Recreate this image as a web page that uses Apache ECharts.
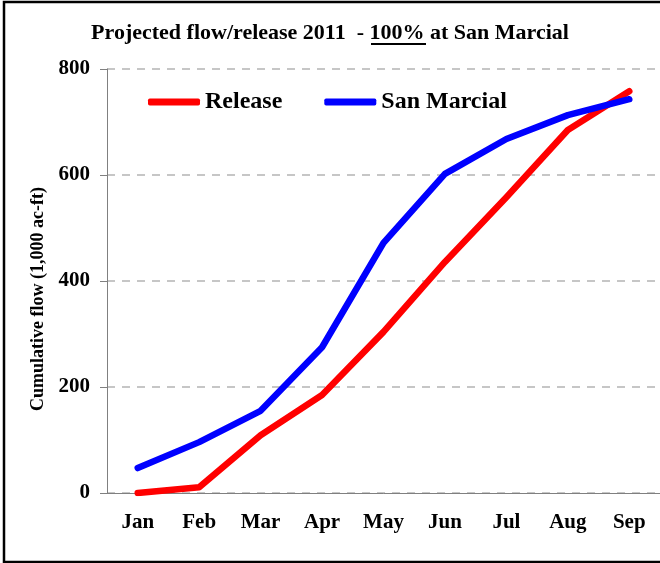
<!DOCTYPE html>
<html>
<head>
<meta charset="utf-8">
<script src="https://cdn.jsdelivr.net/npm/echarts@6/dist/echarts.min.js"></script>
<style>
  html, body { margin: 0; padding: 0; background: #fff; }
  #main { width: 660px; height: 563px; }
</style>
</head>
<body>
<div id="main"></div>
<script>
// months on the x axis
var months = ["Jan", "Feb", "Mar", "Apr", "May", "Jun", "Jul", "Aug", "Sep"];
// cumulative flow, 1,000 ac-ft
var releaseData = [0, 11, 109, 185, 304, 436, 558, 685, 758];
var sanMarcialData = [47, 96, 155, 275, 472, 602, 668, 713, 743];
var yTicks = [0, 200, 400, 600, 800];

var serif = "'Liberation Serif', 'Times New Roman', serif";
var myChart = echarts.init(document.getElementById("main"));

var option = {
  backgroundColor: "#fff",
  animation: false,
  title: {
    text: "Projected flow/release 2011  - 100% at San Marcial",
    left: "center",
    top: 17,
    textStyle: { fontFamily: serif, fontWeight: "bold", fontSize: 22, color: "#000" }
  },
  legend: {
    left: 143,
    top: 85,
    itemWidth: 52,
    itemHeight: 7,
    itemGap: 42,
    icon: "roundRect",
    textStyle: { fontFamily: serif, fontWeight: "bold", fontSize: 24, color: "#000" },
    data: ["Release", "San Marcial"]
  },
  grid: { left: 107, right: -3, top: 69, bottom: 70 },
  xAxis: {
    type: "category",
    data: months,
    boundaryGap: true,
    axisLine: { lineStyle: { color: "#808080", width: 1 } },
    axisTick: { length: 6, lineStyle: { color: "#808080" } },
    axisLabel: { margin: 19, fontFamily: serif, fontWeight: "bold", fontSize: 21, color: "#000" }
  },
  yAxis: {
    type: "value",
    min: yTicks[0],
    max: yTicks[yTicks.length - 1],
    interval: 200,
    name: "Cumulative flow (1,000 ac-ft)",
    nameLocation: "middle",
    nameGap: 59,
    nameTextStyle: {
      fontFamily: serif, fontWeight: "bold", fontSize: 18, color: "#000",
      padding: [0, 36, 0, 0]
    },
    axisLine: { show: true, lineStyle: { color: "#808080", width: 1 } },
    axisTick: { show: true, length: 7, lineStyle: { color: "#808080" } },
    axisLabel: { margin: 17, fontFamily: serif, fontWeight: "bold", fontSize: 21, color: "#000" },
    splitLine: { lineStyle: { color: "#b4b4b4", type: [8, 7], width: 1.5 } }
  },
  series: [
    {
      name: "Release",
      type: "line",
      data: releaseData,
      showSymbol: false,
      color: "#ff0000",
      lineStyle: { width: 6.5, cap: "round", join: "round" }
    },
    {
      name: "San Marcial",
      type: "line",
      data: sanMarcialData,
      showSymbol: false,
      color: "#0000ff",
      lineStyle: { width: 6.5, cap: "round", join: "round" }
    }
  ],
  graphic: [
    {
      // outer frame
      type: "rect",
      silent: true,
      shape: { x: 4, y: 2, width: 700, height: 560 },
      style: { fill: null, stroke: "#000", lineWidth: 2.5 }
    },
    {
      // underline under "100%"
      type: "line",
      silent: true,
      shape: { x1: 371, y1: 44, x2: 426, y2: 44 },
      style: { stroke: "#000", lineWidth: 2 }
    }
  ]
};
myChart.setOption(option);
</script>
</body>
</html>
